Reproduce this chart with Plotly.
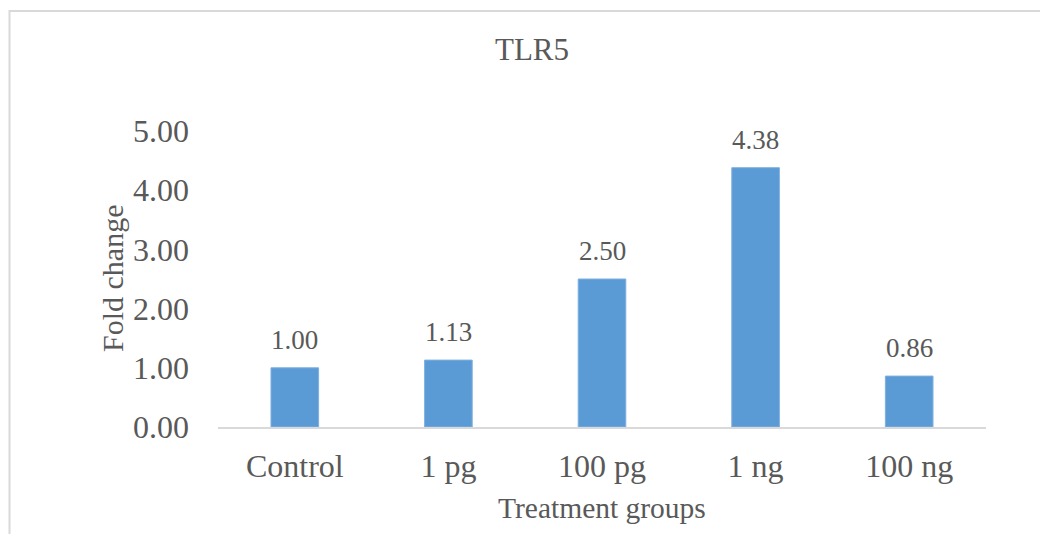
import plotly.graph_objects as go

categories = ["Control", "1 pg", "100 pg", "1 ng", "100 ng"]
fold_change = [1.00, 1.13, 2.50, 4.38, 0.86]
labels = ["1.00", "1.13", "2.50", "4.38", "0.86"]
y_ticks = [0, 1, 2, 3, 4, 5]
y_tick_labels = ["0.00", "1.00", "2.00", "3.00", "4.00", "5.00"]

FONT = "Liberation Serif, Times New Roman, serif"
GREY = "#595959"

fig = go.Figure()
fig.add_trace(go.Bar(
    x=categories, y=fold_change,
    marker=dict(color="#5B9BD5", line=dict(color="#7FB0DF", width=1)),
    hoverinfo="skip",
))

for c, v, t in zip(categories, fold_change, labels):
    fig.add_annotation(x=c, y=v, text=t, showarrow=False, yanchor="bottom",
                       yshift=11, font=dict(family=FONT, size=27, color=GREY))

# Title and axis titles
fig.add_annotation(xref="paper", yref="paper", x=(532 - 218) / 768, y=(427 - 49) / 296,
                   text="TLR5", showarrow=False, xanchor="center", yanchor="middle",
                   font=dict(family=FONT, size=31, color=GREY))
fig.add_annotation(xref="paper", yref="paper", x=0.5, y=(427 - 508) / 296,
                   text="Treatment groups", showarrow=False, xanchor="center", yanchor="middle",
                   font=dict(family=FONT, size=29.5, color=GREY))
fig.add_annotation(xref="paper", yref="paper", x=(112 - 218) / 768, y=(427 - 279) / 296,
                   text="Fold change", showarrow=False, xanchor="center", yanchor="middle",
                   textangle=-90, font=dict(family=FONT, size=30, color=GREY))

# chart border (left edge at figure x=1)
fig.add_shape(type="rect", xref="paper", yref="paper",
              x0=(1.5 - 210) / 768, x1=(1070 - 218) / 768,
              y0=(427 - 560) / 296, y1=(427 - 11) / 296,
              line=dict(color="#D9D9D9", width=2), layer="below")

fig.update_layout(
    width=1048, height=534,
    margin=dict(l=210, r=70, t=123, b=115),
    paper_bgcolor="white", plot_bgcolor="white",
    bargap=0.69, showlegend=False,
    font=dict(family=FONT, color=GREY),
    xaxis=dict(showline=True, linecolor="#D9D9D9", linewidth=2, showgrid=False,
               ticks="", tickfont=dict(family=FONT, size=32, color=GREY),
               ticklabelstandoff=10, zeroline=False),
    yaxis=dict(range=[0, 5], tickvals=y_ticks, ticktext=y_tick_labels,
               showline=False, showgrid=False, zeroline=False, ticks="",
               tickfont=dict(family=FONT, size=32, color=GREY),
               ticklabelstandoff=28),
)

fig.write_html("out.html")
